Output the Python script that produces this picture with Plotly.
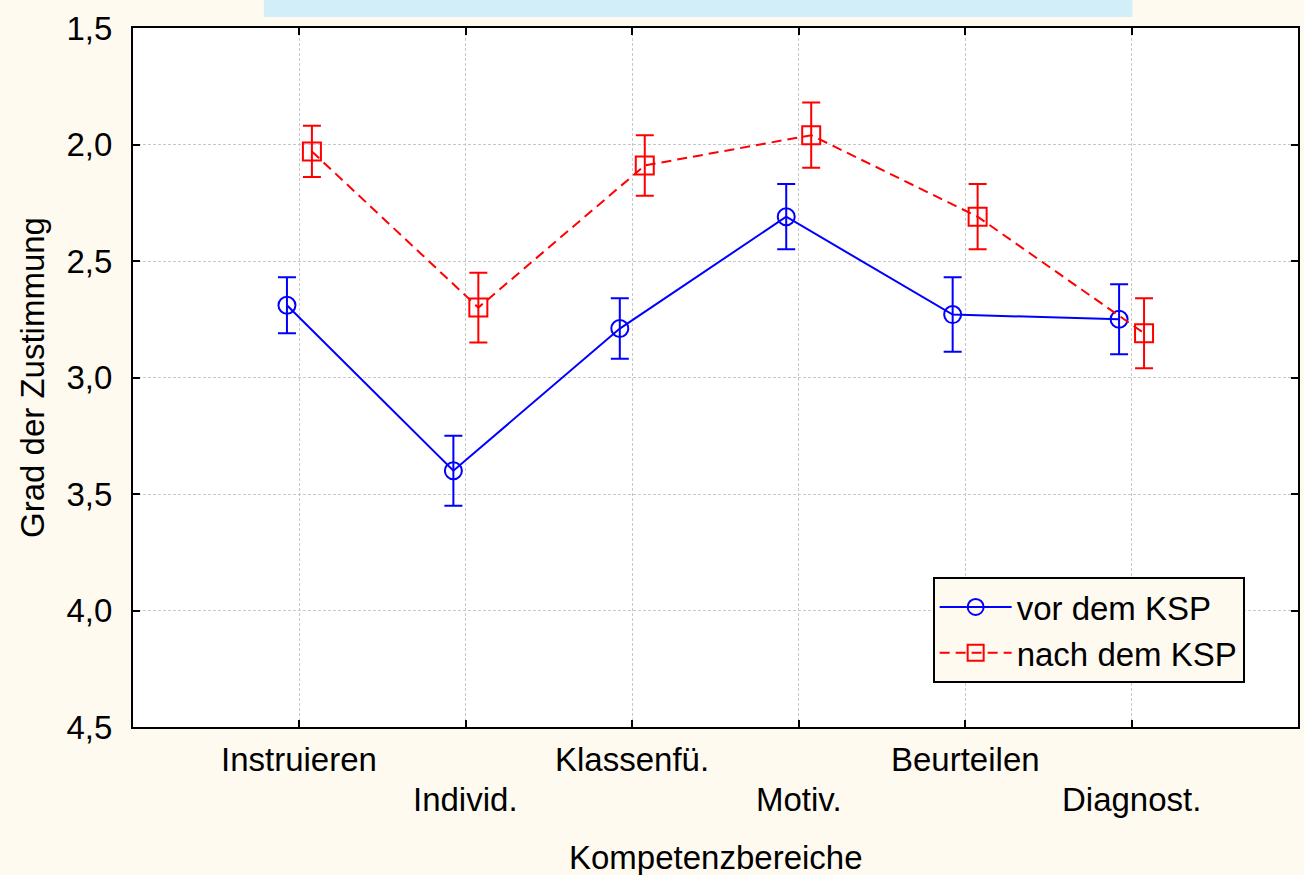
import plotly.graph_objects as go

categories = ["Instruieren", "Individ.", "Klassenfü.", "Motiv.", "Beurteilen", "Diagnost."]
vor_mean = [2.69, 3.40, 2.79, 2.31, 2.73, 2.75]
vor_err = [0.12, 0.15, 0.13, 0.14, 0.16, 0.15]
nach_mean = [2.03, 2.70, 2.09, 1.96, 2.31, 2.81]
nach_err = [0.11, 0.15, 0.13, 0.14, 0.14, 0.15]
y_ticks = [1.5, 2.0, 2.5, 3.0, 3.5, 4.0, 4.5]

FONT = "Liberation Sans, Arial, sans-serif"
FS = 33
BG = "#FFFAF0"
offset = 0.075
idx = list(range(len(categories)))

fig = go.Figure()
fig.add_trace(go.Scatter(
    x=[i - offset for i in idx], y=vor_mean, name="vor dem KSP",
    mode="lines+markers",
    line=dict(color="#0000FF", width=2),
    marker=dict(symbol="circle-open", size=17, color="#0000FF", line=dict(width=2)),
    error_y=dict(type="data", array=vor_err, visible=True, color="#0000FF", thickness=2, width=9),
))
fig.add_trace(go.Scatter(
    x=[i + offset for i in idx], y=nach_mean, name="nach dem KSP",
    mode="lines+markers",
    line=dict(color="#FF0000", width=2, dash="10px,6px"),
    marker=dict(symbol="square-open", size=18, color="#FF0000", line=dict(width=2)),
    error_y=dict(type="data", array=nach_err, visible=True, color="#FF0000", thickness=2, width=9),
))

annotations = []
for i, c in enumerate(categories):
    annotations.append(dict(
        x=i, xref="x", y=-0.047 if i % 2 == 0 else -0.104, yref="paper",
        text=c, showarrow=False, xanchor="center", yanchor="middle",
        font=dict(family=FONT, size=FS, color="black"),
    ))
annotations.append(dict(
    x=0.5, xref="paper", y=-0.186, yref="paper", text="Kompetenzbereiche",
    showarrow=False, xanchor="center", yanchor="middle",
    font=dict(family=FONT, size=FS, color="black"),
))

fig.update_layout(
    width=1304, height=875,
    margin=dict(l=133, r=4, t=28, b=148),
    paper_bgcolor=BG, plot_bgcolor="white",
    separators=",.",
    font=dict(family=FONT, size=FS, color="black"),
    showlegend=True,
    legend=dict(
        x=0.6864, y=0.2146, xanchor="left", yanchor="top",
        bgcolor=BG, bordercolor="black", borderwidth=2,
        font=dict(family=FONT, size=FS, color="black"),
        itemwidth=72, tracegroupgap=0,
    ),
    annotations=annotations,
    shapes=[dict(
        type="rect", xref="paper", yref="paper",
        x0=0.1123, x1=0.8578, y0=1.0157, y1=1.05,
        fillcolor="#D2EEF9", line=dict(width=0), layer="below",
    )],
)
fig.update_xaxes(
    range=[-1, 6], tickvals=idx, showticklabels=False,
    ticks="inside", ticklen=7, tickwidth=1.5, tickcolor="black",
    showline=True, linecolor="black", linewidth=2, mirror="ticks",
    showgrid=True, gridcolor="#C8C8C8", gridwidth=1, griddash="3px,2px",
    zeroline=False,
)
fig.update_yaxes(
    range=[4.5, 1.5], tickvals=y_ticks, tickformat=".1f",
    ticks="inside", ticklen=7, tickwidth=1.5, tickcolor="black",
    ticklabelstandoff=12,
    showline=True, linecolor="black", linewidth=2, mirror="ticks",
    showgrid=True, gridcolor="#C8C8C8", gridwidth=1, griddash="3px,2px",
    zeroline=False,
    title=dict(text="Grad der Zustimmung", font=dict(family=FONT, size=FS), standoff=12),
    tickfont=dict(family=FONT, size=FS),
)

fig.write_html("out.html", config={"displayModeBar": False},
               post_script="document.body.style.margin='0px';")
